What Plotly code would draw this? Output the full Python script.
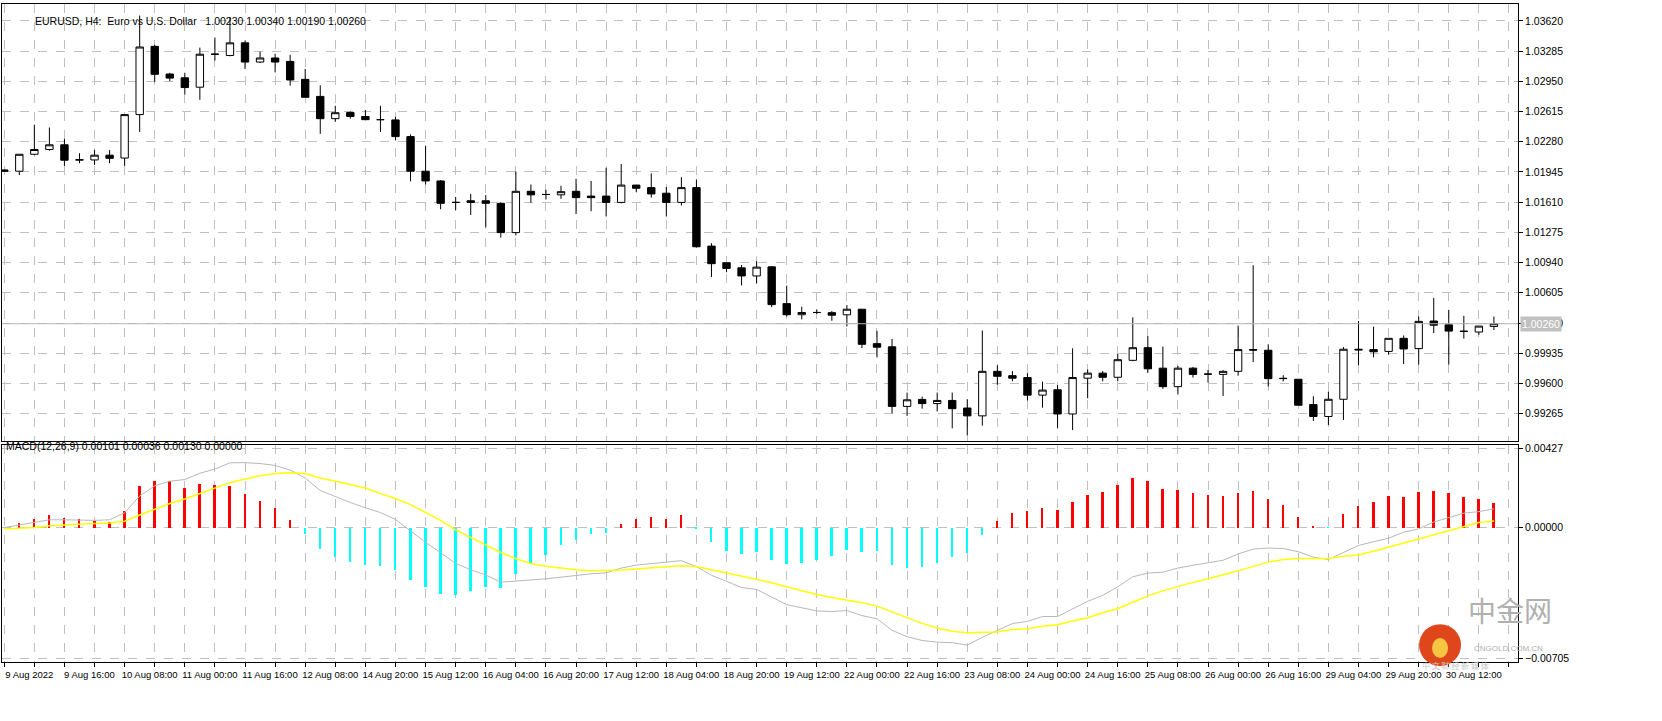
import plotly.graph_objects as go
from plotly.subplots import make_subplots

# EURUSD H4 candles
opens = [1.01966, 1.01952, 1.0214, 1.02193, 1.02245, 1.02074, 1.02077, 1.0213, 1.02098, 1.0258,
         1.03337, 1.0303, 1.02988, 1.02884, 1.0325, 1.03236, 1.03376, 1.03163, 1.03208, 1.0317,
         1.02971, 1.02782, 1.02535, 1.02604, 1.02559, 1.02524, 1.02521, 1.02336, 1.01952, 1.01844,
         1.01606, 1.01624, 1.01624, 1.01596, 1.01271, 1.01729, 1.01694, 1.0169, 1.01729, 1.01676,
         1.01676, 1.01606, 1.01798, 1.0177, 1.01708, 1.01606, 1.0177, 1.01121, 1.00936, 1.0088,
         1.0079, 1.00891, 1.00483, 1.0036, 1.00385, 1.00383, 1.00359, 1.00421, 1.00039, 1.00004,
         0.99343, 0.9942, 0.99374, 0.99409, 0.99325, 0.99238, 0.99732, 0.99684, 0.99663, 0.99468,
         0.99527, 0.99259, 0.99656, 0.99712, 0.99666, 0.99854, 0.99994, 0.99767, 0.99562, 0.99767,
         0.99701, 0.99698, 0.99732, 0.99973, 0.99966, 0.99651, 0.99644, 0.99363, 0.99231, 0.99422,
         0.99977, 0.99973, 0.99953, 1.00098, 0.99984, 1.0029, 1.00248, 1.00178, 1.00168, 1.0023]
highs = [1.0197, 1.0214, 1.02468, 1.02437, 1.02311, 1.02151, 1.02186, 1.02186, 1.0258, 1.03679,
         1.03355, 1.03044, 1.03044, 1.03323, 1.03435, 1.03662, 1.034, 1.03278, 1.03254, 1.03243,
         1.03086, 1.02905, 1.02678, 1.02615, 1.02632, 1.02678, 1.02556, 1.0236, 1.02235, 1.01854,
         1.01666, 1.017, 1.01687, 1.01606, 1.01948, 1.01805, 1.01746, 1.01791, 1.01868, 1.01844,
         1.0199, 1.02032, 1.01798, 1.01928, 1.01777, 1.01886, 1.01861, 1.01153, 1.00936, 1.00912,
         1.00954, 1.00898, 1.00682, 1.00448, 1.0042, 1.00401, 1.00467, 1.00421, 1.00181, 1.00091,
         0.99496, 0.99451, 0.99496, 0.99496, 0.99423, 1.00185, 0.99799, 0.99736, 0.99712, 0.99618,
         0.99579, 0.99987, 0.99753, 0.99736, 0.99924, 1.00331, 1.00122, 1.00007, 0.99792, 0.99781,
         0.99746, 0.99746, 1.0024, 1.00909, 1.00032, 0.99689, 0.99644, 0.99456, 0.99508, 1.00001,
         1.0029, 1.00227, 1.00098, 1.0013, 1.00341, 1.00546, 1.00414, 1.00348, 1.00234, 1.0034]
lows = [1.0195, 1.0191, 1.0213, 1.02179, 1.02011, 1.0204, 1.02022, 1.02042, 1.02011, 1.02388,
        1.02943, 1.02953, 1.02803, 1.02744, 1.0318, 1.03226, 1.03086, 1.03152, 1.03048, 1.02901,
        1.02772, 1.02367, 1.025, 1.02535, 1.02524, 1.02388, 1.02294, 1.0184, 1.01805, 1.0153,
        1.01519, 1.01467, 1.01331, 1.01216, 1.0124, 1.01603, 1.01638, 1.01645, 1.01477, 1.01509,
        1.01449, 1.01596, 1.01722, 1.01659, 1.01449, 1.01572, 1.01104, 1.00779, 1.00832, 1.00685,
        1.00706, 1.00444, 1.0034, 1.00308, 1.00367, 1.00293, 1.0023, 0.9999, 0.99886, 0.99266,
        0.99238, 0.99318, 0.99287, 0.991, 0.9902, 0.9913, 0.99583, 0.99621, 0.99409, 0.99329,
        0.991, 0.9908, 0.99433, 0.99621, 0.99621, 0.99844, 0.99715, 0.99538, 0.99475, 0.99663,
        0.99607, 0.99458, 0.99684, 0.99835, 0.99564, 0.9962, 0.99356, 0.99182, 0.99137, 0.99193,
        0.998, 0.99887, 0.99918, 0.99814, 0.99807, 1.00157, 0.99807, 1.00095, 1.00137, 1.0019]
closes = [1.01952, 1.0214, 1.02193, 1.02245, 1.02074, 1.02081, 1.0213, 1.02095, 1.0258, 1.0333,
          1.03027, 1.02985, 1.0288, 1.0325, 1.0325, 1.03376, 1.03163, 1.03208, 1.03163, 1.02964,
          1.02772, 1.02535, 1.02601, 1.02559, 1.02524, 1.02524, 1.02336, 1.01952, 1.01844, 1.01596,
          1.01606, 1.01606, 1.01596, 1.01271, 1.01729, 1.0169, 1.01694, 1.01725, 1.01659, 1.01659,
          1.01606, 1.01798, 1.01763, 1.017, 1.01606, 1.0177, 1.01114, 1.00926, 1.00874, 1.0079,
          1.00888, 1.00472, 1.0036, 1.00385, 1.00385, 1.00355, 1.00421, 1.00032, 1.0, 0.99343,
          0.99416, 0.99374, 0.99409, 0.99318, 0.99238, 0.99732, 0.99677, 0.99656, 0.99468, 0.99524,
          0.99259, 0.99663, 0.99712, 0.99666, 0.99861, 0.99994, 0.9976, 0.99562, 0.99767, 0.99698,
          0.99701, 0.99732, 0.99973, 0.99968, 0.99651, 0.99654, 0.99356, 0.99231, 0.99422, 0.99977,
          0.9997, 0.99949, 1.00098, 0.9998, 1.00286, 1.00244, 1.00178, 1.00175, 1.00234, 1.0026]

# MACD pane
macd_hist = [0.0, 0.00027, 0.00047, 0.00068, 0.00051, 0.00044, 0.00037, 0.0003, 0.00088, 0.00222,
             0.00251, 0.00249, 0.00215, 0.00235, 0.0023, 0.00225, 0.0018, 0.00144, 0.00103, 0.00042,
             -0.00037, -0.00115, -0.00159, -0.00186, -0.00201, -0.00206, -0.00227, -0.00283, -0.00318, -0.00359,
             -0.00365, -0.00344, -0.00319, -0.00324, -0.00249, -0.00193, -0.00146, -0.00092, -0.00066, -0.00037,
             -0.0003, 0.00022, 0.00047, 0.00057, 0.00047, 0.00067, -0.00007, -0.00077, -0.00124, -0.00143,
             -0.00133, -0.00173, -0.00198, -0.00193, -0.00173, -0.00153, -0.00118, -0.00129, -0.00128, -0.00203,
             -0.00218, -0.00213, -0.00188, -0.00158, -0.00139, -0.00042, 0.00034, 0.00077, 0.00089, 0.00108,
             0.00095, 0.0014, 0.00174, 0.00194, 0.0023, 0.00265, 0.0025, 0.00209, 0.00204, 0.00189,
             0.00174, 0.00169, 0.00189, 0.00199, 0.00155, 0.00123, 0.00057, 0.00007, -0.00001, 0.00073,
             0.00118, 0.00138, 0.00169, 0.00164, 0.00194, 0.00199, 0.00186, 0.00164, 0.00155, 0.0013]
macd_main = [0.0, 0.00014, 0.0003, 0.00042, 0.00042, 0.00039, 0.00039, 0.00042, 0.0008, 0.0017,
             0.00225, 0.0025, 0.00259, 0.00293, 0.00315, 0.00349, 0.0035, 0.00345, 0.00335, 0.0031,
             0.00267, 0.002, 0.00166, 0.00135, 0.00107, 0.00081, 0.00044, -0.0002, -0.0008, -0.00135,
             -0.00193, -0.00227, -0.00255, -0.00294, -0.00289, -0.00282, -0.00276, -0.00267, -0.00257, -0.00249,
             -0.00244, -0.00218, -0.00202, -0.00193, -0.00188, -0.00178, -0.0021, -0.00257, -0.00289, -0.00323,
             -0.00333, -0.00373, -0.00415, -0.00432, -0.00449, -0.00452, -0.00447, -0.00474, -0.00491, -0.00553,
             -0.00588, -0.00608, -0.00617, -0.0062, -0.00633, -0.00591, -0.00553, -0.00517, -0.00505, -0.00479,
             -0.00479, -0.00439, -0.00397, -0.00365, -0.00319, -0.00265, -0.00245, -0.0024, -0.00218, -0.00203,
             -0.00189, -0.00176, -0.00142, -0.00116, -0.0011, -0.00113, -0.0013, -0.00159, -0.00172, -0.00135,
             -0.00096, -0.00076, -0.00057, -0.00025, -0.00007, 0.0003, 0.00056, 0.00078, 0.00086, 0.00101]
macd_signal = [-0.00008, -0.00005, 0.0, 0.0001, 0.00015, 0.00019, 0.00022, 0.00025, 0.00034, 0.00068,
               0.00098, 0.0013, 0.00154, 0.00183, 0.00213, 0.00242, 0.00262, 0.00279, 0.00291, 0.00296,
               0.00291, 0.00267, 0.0025, 0.00233, 0.00213, 0.00183, 0.00157, 0.00124, 0.00081, 0.00039,
               -0.00012, -0.00054, -0.00096, -0.00134, -0.00168, -0.00193, -0.00208, -0.00218, -0.00227, -0.00232,
               -0.00232, -0.00228, -0.00223, -0.00218, -0.00212, -0.00205, -0.0021, -0.00227, -0.00244, -0.00259,
               -0.00277, -0.00297, -0.00319, -0.00341, -0.0036, -0.00376, -0.0039, -0.00405, -0.00423, -0.00454,
               -0.00487, -0.00516, -0.00541, -0.00558, -0.00566, -0.00566, -0.00563, -0.00549, -0.00545, -0.00532,
               -0.00523, -0.00503, -0.00486, -0.00459, -0.00437, -0.00402, -0.00368, -0.00341, -0.00317, -0.00295,
               -0.00275, -0.00255, -0.00233, -0.00209, -0.00186, -0.00172, -0.00167, -0.00167, -0.00167, -0.00155,
               -0.00147, -0.00127, -0.00105, -0.00084, -0.00062, -0.00041, -0.00017, 0.00005, 0.00027, 0.00036]

time_labels = ["9 Aug 2022", "9 Aug 16:00", "10 Aug 08:00", "11 Aug 00:00", "11 Aug 16:00",
               "12 Aug 08:00", "14 Aug 20:00", "15 Aug 12:00", "16 Aug 04:00", "16 Aug 20:00",
               "17 Aug 12:00", "18 Aug 04:00", "18 Aug 20:00", "19 Aug 12:00", "22 Aug 00:00",
               "22 Aug 16:00", "23 Aug 08:00", "24 Aug 00:00", "24 Aug 16:00", "25 Aug 08:00",
               "26 Aug 00:00", "26 Aug 16:00", "29 Aug 04:00", "29 Aug 20:00", "30 Aug 12:00"]
price_ticks = [1.03620, 1.03285, 1.02950, 1.02615, 1.02280, 1.01945, 1.01610, 1.01275,
               1.00940, 1.00605, 1.00260, 0.99935, 0.99600, 0.99265]
macd_ticks = [0.00427, 0.0, -0.00705]
last_price = 1.00260

idx = list(range(len(opens)))
grid_vals = list(range(0, len(opens) + 2, 2))
grid_text = [time_labels[v // 4] if v % 4 == 0 and v // 4 < len(time_labels) else "" for v in grid_vals]

W, H = 1662, 721
L, R, T, B = 1, 144, 1, 59
PW = W - L - R
PH = H - T - B


def px(x):
    return (x - L) / PW


def py(y):
    return (H - B - y) / PH


fig = make_subplots(rows=2, cols=1, shared_xaxes=True)

fig.add_trace(go.Candlestick(
    x=idx, open=opens, high=highs, low=lows, close=closes,
    increasing=dict(fillcolor="white", line=dict(color="black", width=1)),
    decreasing=dict(fillcolor="black", line=dict(color="black", width=1)),
    whiskerwidth=0, showlegend=False, hoverinfo="skip",
), row=1, col=1)

fig.add_trace(go.Bar(
    x=idx, y=macd_hist, width=0.13,
    marker=dict(color=["#ff0000" if v >= 0 else "#00ffff" for v in macd_hist], line=dict(width=0)),
    showlegend=False, hoverinfo="skip",
), row=2, col=1)
fig.add_trace(go.Scatter(x=idx, y=macd_main, mode="lines", line=dict(color="#b8b8b8", width=1),
                         showlegend=False, hoverinfo="skip"), row=2, col=1)
fig.add_trace(go.Scatter(x=idx, y=macd_signal, mode="lines", line=dict(color="#ffff00", width=1.5),
                         showlegend=False, hoverinfo="skip"), row=2, col=1)

font = dict(family="Liberation Sans", size=10.5, color="black")
xfont = dict(family="Liberation Sans", size=9.5, color="black")
grid = dict(showgrid=True, gridcolor="#c0c0c0", griddash="dash", gridwidth=1)
xrange = [-0.15, 100.6]

fig.update_layout(
    width=W, height=H, margin=dict(l=L, r=R, t=T, b=B),
    paper_bgcolor="white", plot_bgcolor="white", font=font, bargap=0,
    xaxis=dict(range=xrange, tickvals=grid_vals, showticklabels=False, ticks="",
               rangeslider=dict(visible=False), showline=True, mirror=True,
               linecolor="black", linewidth=1, zeroline=False, **grid),
    xaxis2=dict(range=xrange, tickvals=grid_vals, ticktext=grid_text, ticks="outside",
                ticklen=4, tickcolor="black", ticklabelshift=25, tickangle=0,
                showline=True, mirror=True, linecolor="black", linewidth=1,
                zeroline=False, tickfont=xfont, **grid),
    yaxis=dict(domain=[py(440), 1], range=[0.98959, 1.03807], side="right",
               tickvals=price_ticks, tickformat=".5f", ticks="outside", ticklen=4,
               tickcolor="black", showline=True, mirror=True, linecolor="black",
               zeroline=False, tickfont=font, **grid),
    yaxis2=dict(domain=[0, py(444)], range=[-0.00724, 0.00445], side="right",
                tickvals=macd_ticks, tickformat=".5f", ticks="outside", ticklen=4,
                tickcolor="black", showline=True, mirror=True, linecolor="black",
                zeroline=False, tickfont=font, **grid),
)

# current price line and tag
fig.add_hline(y=last_price, line=dict(color="#b8b8b8", width=1), row=1, col=1)
fig.add_annotation(x=1.0, xref="paper", y=last_price, yref="y", text="%.5f" % last_price,
                   xanchor="left", xshift=2, showarrow=False, bgcolor="#c0c0c0",
                   font=dict(family="Liberation Sans", size=10.5, color="white"), borderpad=1)

fig.add_annotation(x=px(32), y=py(10), xref="paper", yref="paper", xanchor="left",
                   text="EURUSD, H4:  Euro vs U.S. Dollar   1.00230 1.00340 1.00190 1.00260",
                   showarrow=False, font=font)
fig.add_annotation(x=px(3), y=py(453), xref="paper", yref="paper", xanchor="left",
                   text="MACD(12,26,9) 0.00101 0.00036 0.00130 0.00000",
                   showarrow=False, font=font)

# watermark
fig.add_shape(type="circle", xref="paper", yref="paper", x0=px(1419), x1=px(1461),
              y0=py(666), y1=py(624), fillcolor="#e0461c", line=dict(width=0), layer="above")
fig.add_shape(type="circle", xref="paper", yref="paper", x0=px(1432), x1=px(1448),
              y0=py(658), y1=py(638), fillcolor="#f5c542", line=dict(width=0), layer="above")
fig.add_annotation(x=px(1466), y=py(632), xref="paper", yref="paper", xanchor="left",
                   text="中金网", showarrow=False,
                   font=dict(family="Noto Sans CJK SC", size=28, color="#b0b0b0"))
fig.add_annotation(x=px(1472), y=py(655), xref="paper", yref="paper", xanchor="left",
                   text="CNGOLD.COM.CN", showarrow=False,
                   font=dict(family="Liberation Sans", size=8, color="#b0b0b0"))
fig.add_annotation(x=px(1420), y=py(673), xref="paper", yref="paper", xanchor="left",
                   text="中 文 财 经 新 媒 体", showarrow=False,
                   font=dict(family="Noto Sans CJK SC", size=8, color="#c8c8c8"))

fig.write_html("out.html", config={"displayModeBar": False},
               post_script="document.body.style.margin='0';")
